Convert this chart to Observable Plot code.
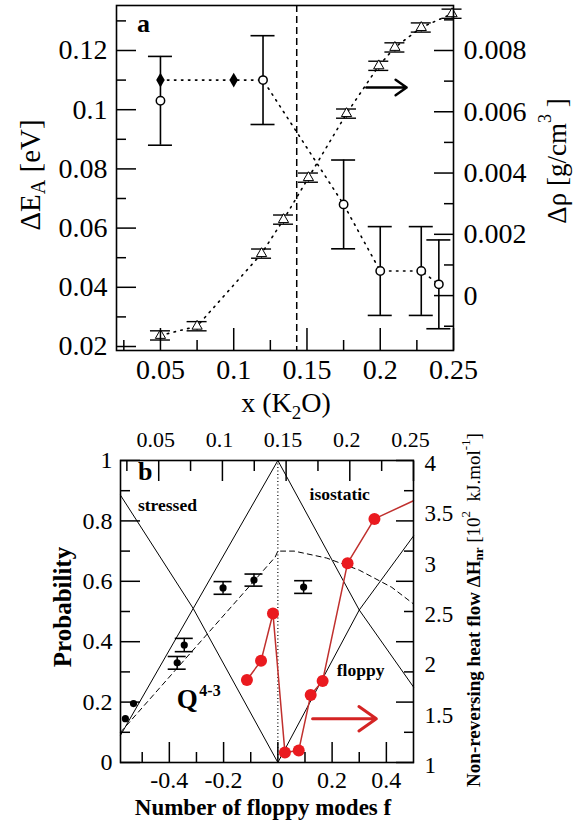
<!DOCTYPE html>
<html><head><meta charset="utf-8">
<script src="https://cdn.jsdelivr.net/npm/d3@7"></script>
<script src="https://cdn.jsdelivr.net/npm/@observablehq/plot@0.6"></script>
<style>body{margin:0;background:#fff;} #chart svg{display:block}</style>
</head><body><div id="chart"></div>
<script>
// ================= Panel a data =================
const eaFilledX = [0.05, 0.10];
const eaFilledY = [0.110, 0.110];
const eaOpenX = [0.05, 0.12, 0.175, 0.20, 0.228, 0.24];
const eaOpenY = [0.103, 0.110, 0.068, 0.0455, 0.0455, 0.041];
const eaOpenErr = [0.015, 0.015, 0.015, 0.015, 0.015, 0.015];
const eaTrendX = [0.05, 0.10, 0.12, 0.175, 0.20, 0.228, 0.24];
const eaTrendY = [0.110, 0.110, 0.110, 0.068, 0.0455, 0.0455, 0.041];
const rhoX = [0.05, 0.075, 0.119, 0.134, 0.151, 0.177, 0.199, 0.21, 0.228, 0.249];
const rhoY = [-0.0013, -0.0010, 0.00137, 0.00248, 0.00385, 0.00594, 0.0075, 0.0081, 0.00875, 0.0092];
const rhoErr = [0.00015, 0.00015, 0.00015, 0.00015, 0.00015, 0.00015, 0.00015, 0.00015, 0.00015, 0.00015];
const xcK2O = [0.143];                       // dashed vertical line
const arrowAX = [0.1905, 0.218];             // black arrow (points to right axis)
const arrowAY = [0.1075];
const eTicks = [0.02, 0.04, 0.06, 0.08, 0.10, 0.12];
const eTickLabels = ["0.02", "0.04", "0.06", "0.08", "0.1", "0.12"];
const eMinor = [0.03, 0.05, 0.07, 0.09, 0.11, 0.13];
const rhoTicks = [0, 0.002, 0.004, 0.006, 0.008];
const rhoTickLabels = ["0", "0.002", "0.004", "0.006", "0.008"];
const rhoMinor = [-0.001, 0.001, 0.003, 0.005, 0.007, 0.009];
const kTicks = [0.05, 0.10, 0.15, 0.20, 0.25];
const kTickLabels = ["0.05", "0.1", "0.15", "0.2", "0.25"];
const kMinor = [0.025, 0.075, 0.125, 0.175, 0.225];

// ================= Panel b data =================
const fBlack = [-0.562, -0.532, -0.371, -0.345, -0.202, -0.088, 0.095];
const pBlack = [0.145, 0.195, 0.330, 0.389, 0.578, 0.604, 0.581];
const pBlackErr = [0, 0, 0.021, 0.022, 0.021, 0.020, 0.021];
const fRed = [-0.114, -0.062, -0.018, 0.026, 0.077, 0.121, 0.165, 0.257, 0.356];
const hRed = [1.82, 2.01, 2.48, 1.10, 1.12, 1.67, 1.81, 2.98, 3.42];
const fRedEdge = [0.50];
const hRedEdge = [3.60];
const stressedF = [-0.58, -0.312, 0];  const stressedP = [0.885, 0.51, 0];
const rigidF = [-0.58, -0.312, 0];     const rigidP = [0.09, 0.51, 1];
const isoF = [0, 0.30, 0.50];          const isoP = [1, 0.505, 0.25];
const floppyF = [0, 0.30, 0.50];       const floppyP = [0, 0.505, 0.75];
const q43F = [-0.58, -0.01, 0.0, 0.06, 0.18, 0.30, 0.42, 0.50];
const q43P = [0.10, 0.68, 0.70, 0.70, 0.677, 0.637, 0.58, 0.525];
const regionText = ["stressed", "isostatic", "floppy"];
const regionF = [-0.407, 0.228, 0.305];
const regionP = [0.851, 0.888, 0.304];
const qText = ["Q"], qF = [-0.334], qP = [0.208];
const qSupText = ["4-3"], qSupF = [-0.25], qSupP = [0.236];
const arrowBF = [0.128, 0.363];
const arrowBP = [0.145];
const pTicks = [0, 0.2, 0.4, 0.6, 0.8, 1];
const pTickLabels = ["0", "0.2", "0.4", "0.6", "0.8", "1"];
const pMinor = [0.1, 0.3, 0.5, 0.7, 0.9];
const hTicks = [1, 1.5, 2, 2.5, 3, 3.5, 4];
const hTickLabels = ["1", "1.5", "2", "2.5", "3", "3.5", "4"];
const fTicks = [-0.4, -0.2, 0, 0.2, 0.4];
const fTickLabels = ["-0.4", "-0.2", "0", "0.2", "0.4"];
const fMinor = [-0.5, -0.3, -0.1, 0.1, 0.3];

// ================= helpers =================
const SERIF = "'Liberation Serif', 'Times New Roman', 'DejaVu Serif', serif";
const rhoToE = r => 0.0372 + r * (0.12 - 0.0372) / 0.008;   // right axis of panel a
const hToP = h => (h - 1) / 3;                                // right axis of panel b
const kToF = k => -0.58 + (k - 0.02) * 1.08 / 0.23;          // top axis of panel b
const lookup = (keys, labels) => { const m = new Map(keys.map((k, i) => [k, labels[i]])); return d => m.get(d) ?? ""; };

function tickMarks(axis, anchor, ticks, size) {
  return axis({anchor, ticks, tickSize: -size, tickFormat: () => "", strokeWidth: 1.5, label: null});
}
function tickLabels(axis, anchor, ticks, labels, fontSize, pad, extra = {}) {
  return axis({anchor, ticks, tickSize: 0, tickPadding: pad, tickFormat: lookup(ticks, labels), fontSize, label: null, ...extra});
}

// ================= Panel a =================
const open = eaOpenX.map((x, i) => ({x, y: eaOpenY[i], e: eaOpenErr[i]}));
const filled = eaFilledX.map((x, i) => ({x, y: eaFilledY[i]}));
const trend = eaTrendX.map((x, i) => ({x, y: eaTrendY[i]}));
const rho = rhoX.map((x, i) => ({x, r: rhoY[i], e: rhoErr[i]}));
const eRho = rhoTicks.map(rhoToE), eRhoMinor = rhoMinor.map(rhoToE);

const svgA = Plot.plot({
  width: 579, height: 420, marginLeft: 116, marginRight: 126, marginTop: 5, marginBottom: 70,
  style: {fontFamily: SERIF, color: "black", background: "white", overflow: "visible"},
  x: {domain: [0.02, 0.25]},
  y: {domain: [0.01865, 0.1352]},
  marks: [
    Plot.ruleX(xcK2O, {x: d => d, stroke: "black", strokeWidth: 1.5, strokeDasharray: "7,4"}),
    Plot.line(trend, {x: "x", y: "y", stroke: "black", strokeWidth: 1.6, strokeDasharray: "1.5,5.5"}),
    Plot.line(rho, {x: "x", y: d => rhoToE(d.r), stroke: "black", strokeWidth: 1.6, strokeDasharray: "1.5,5.5"}),
    Plot.ruleX(open, {x: "x", y1: d => d.y - d.e, y2: d => d.y + d.e, stroke: "black", strokeWidth: 1.6}),
    Plot.ruleY(open, {y: d => d.y + d.e, x1: "x", x2: "x", insetLeft: -12, insetRight: -12, stroke: "black", strokeWidth: 1.6}),
    Plot.ruleY(open, {y: d => d.y - d.e, x1: "x", x2: "x", insetLeft: -12, insetRight: -12, stroke: "black", strokeWidth: 1.6}),
    Plot.ruleX(rho, {x: "x", y1: d => rhoToE(d.r - d.e), y2: d => rhoToE(d.r + d.e), stroke: "black", strokeWidth: 1}),
    Plot.ruleY(rho, {y: d => rhoToE(d.r + d.e), x1: "x", x2: "x", insetLeft: -10, insetRight: -10, stroke: "black", strokeWidth: 1.4}),
    Plot.ruleY(rho, {y: d => rhoToE(d.r - d.e), x1: "x", x2: "x", insetLeft: -10, insetRight: -10, stroke: "black", strokeWidth: 1.4}),
    Plot.dot(filled, {x: "x", y: "y", symbol: "diamond", r: 4.5, fill: "black"}),
    Plot.dot(open, {x: "x", y: "y", r: 4.2, fill: "white", stroke: "black", strokeWidth: 1.5}),
    Plot.dot(rho, {x: "x", y: d => rhoToE(d.r), symbol: "triangle", r: 3.8, fill: "white", stroke: "black", strokeWidth: 1}),
    Plot.arrow(arrowAY, {x1: () => arrowAX[0], x2: () => arrowAX[1], y1: d => d, y2: d => d, stroke: "black", strokeWidth: 2.5, headLength: 13, headAngle: 70}),
    Plot.frame({stroke: "black", strokeWidth: 1.6}),
    tickMarks(Plot.axisY, "left", eTicks, 20), tickMarks(Plot.axisY, "left", eMinor, 10),
    tickLabels(Plot.axisY, "left", eTicks, eTickLabels, 28, 9),
    tickMarks(Plot.axisY, "right", eRho, 20), tickMarks(Plot.axisY, "right", eRhoMinor, 10),
    tickLabels(Plot.axisY, "right", eRho, rhoTickLabels, 28, 10),
    tickMarks(Plot.axisX, "bottom", kTicks, 22), tickMarks(Plot.axisX, "bottom", kMinor, 10),
    tickLabels(Plot.axisX, "bottom", kTicks, kTickLabels, 28, 9)
  ]
});

// ================= Panel b =================
const black = fBlack.map((f, i) => ({f, p: pBlack[i], e: pBlackErr[i]}));
const blackErr = black.filter(d => d.e > 0);
const red = fRed.map((f, i) => ({f, h: hRed[i]}));
const redLine = red.concat(fRedEdge.map((f, i) => ({f, h: hRedEdge[i]})));
const zip = (F, P) => F.map((f, i) => ({f, p: P[i]}));

const svgB = Plot.plot({
  width: 579, height: 406, marginLeft: 120, marginRight: 166, marginTop: 40, marginBottom: 64,
  style: {fontFamily: SERIF, color: "black", background: "white", overflow: "visible"},
  x: {domain: [-0.58, 0.5]},
  y: {domain: [0, 1]},
  marks: [
    Plot.ruleX([0], {x: d => d, stroke: "black", strokeWidth: 1.2, strokeDasharray: "1,2.5"}),
    Plot.line(zip(stressedF, stressedP), {x: "f", y: "p", stroke: "black", strokeWidth: 1}),
    Plot.line(zip(rigidF, rigidP), {x: "f", y: "p", stroke: "black", strokeWidth: 1}),
    Plot.line(zip(isoF, isoP), {x: "f", y: "p", stroke: "black", strokeWidth: 1}),
    Plot.line(zip(floppyF, floppyP), {x: "f", y: "p", stroke: "black", strokeWidth: 1}),
    Plot.line(zip(q43F, q43P), {x: "f", y: "p", stroke: "black", strokeWidth: 1, strokeDasharray: "5,4"}),
    Plot.ruleX(blackErr, {x: "f", y1: d => d.p - d.e, y2: d => d.p + d.e, stroke: "black", strokeWidth: 1.5}),
    Plot.ruleY(blackErr, {y: d => d.p + d.e, x1: "f", x2: "f", insetLeft: -9, insetRight: -9, stroke: "black", strokeWidth: 1.6}),
    Plot.ruleY(blackErr, {y: d => d.p - d.e, x1: "f", x2: "f", insetLeft: -9, insetRight: -9, stroke: "black", strokeWidth: 1.6}),
    Plot.dot(black, {x: "f", y: "p", r: 3.6, fill: "black"}),
    Plot.line(redLine, {x: "f", y: d => hToP(d.h), stroke: "#c0302e", strokeWidth: 1.5}),
    Plot.dot(red, {x: "f", y: d => hToP(d.h), r: 6, fill: "#ea1a1f"}),
    Plot.arrow(arrowBP, {x1: () => arrowBF[0], x2: () => arrowBF[1], y1: d => d, y2: d => d, stroke: "#d42424", strokeWidth: 3, headLength: 16, headAngle: 70}),
    Plot.text(regionText, {x: (d, i) => regionF[i], y: (d, i) => regionP[i], text: d => d, fontWeight: "bold", fontSize: 17.5}),
    Plot.text(qText, {x: (d, i) => qF[i], y: (d, i) => qP[i], text: d => d, fontWeight: "bold", fontSize: 27}),
    Plot.text(qSupText, {x: (d, i) => qSupF[i], y: (d, i) => qSupP[i], text: d => d, fontWeight: "bold", fontSize: 16}),
    Plot.frame({stroke: "black", strokeWidth: 1.6}),
    tickMarks(Plot.axisY, "left", pTicks, 20), tickMarks(Plot.axisY, "left", pMinor, 10),
    tickLabels(Plot.axisY, "left", pTicks, pTickLabels, 24, 8),
    tickMarks(Plot.axisY, "right", pTicks, 18), tickMarks(Plot.axisY, "right", pMinor, 10),
    tickLabels(Plot.axisY, "right", hTicks.map(hToP), hTickLabels, 23, 11, {dy: 3}),
    tickMarks(Plot.axisX, "bottom", fTicks, 20), tickMarks(Plot.axisX, "bottom", fMinor, 10),
    tickLabels(Plot.axisX, "bottom", fTicks, fTickLabels, 24, 8),
    tickMarks(Plot.axisX, "top", kTicks.map(kToF), 20), tickMarks(Plot.axisX, "top", kMinor.map(kToF), 10),
    tickLabels(Plot.axisX, "top", kTicks.map(kToF), kTickLabels, 22, 14, {dx: -3})
  ]
});

// ================= axis titles and panel letters =================
function addText(svg, {x, y, rotate = 0, size, weight = "normal", anchor = "middle", baseline = "auto", parts}) {
  const t = d3.select(svg).append("text")
    .attr("transform", `translate(${x},${y}) rotate(${rotate})`)
    .attr("text-anchor", anchor).attr("dominant-baseline", baseline)
    .attr("font-family", SERIF).attr("font-size", size).attr("font-weight", weight).attr("fill", "black");
  for (const p of parts) {
    const s = t.append("tspan").text(p.t);
    if (p.dy) s.attr("dy", p.dy);
    if (p.size) s.attr("font-size", p.size);
    if (p.weight) s.attr("font-weight", p.weight);
  }
}
addText(svgA, {x: 30, y: 175, rotate: -90, size: 29, baseline: "central",
  parts: [{t: "ΔE"}, {t: "A", dy: 8, size: 20}, {t: " [eV]", dy: -8}]});
addText(svgA, {x: 557, y: 161, rotate: -90, size: 27, baseline: "central",
  parts: [{t: "Δρ [g/cm"}, {t: "3", dy: -12, size: 18}, {t: " ]", dy: 12}]});
addText(svgA, {x: 286, y: 412, size: 28,
  parts: [{t: "x (K"}, {t: "2", dy: 7, size: 19}, {t: "O)", dy: -7}]});
addText(svgA, {x: 137, y: 32, size: 26, weight: "bold", anchor: "start", parts: [{t: "a"}]});

addText(svgB, {x: 62, y: 187, rotate: -90, size: 25, weight: "bold", baseline: "central", parts: [{t: "Probability"}]});
addText(svgB, {x: 263, y: 395, size: 23, weight: "bold", parts: [{t: "Number of floppy modes f"}]});
addText(svgB, {x: 473, y: 190, rotate: -90, size: 19, baseline: "central",
  parts: [{t: "Non-reversing heat flow ΔH", weight: "bold"}, {t: "nr", dy: 5, size: 13, weight: "bold"},
          {t: " [10", dy: -5}, {t: "2", dy: -8, size: 13}, {t: "  kJ.mol", dy: 8}, {t: "-1", dy: -8, size: 13}, {t: "]", dy: 8}]});
addText(svgB, {x: 138, y: 60, size: 26, weight: "bold", anchor: "start", parts: [{t: "b"}]});

document.getElementById("chart").append(svgA, svgB);
</script>
</body></html>
